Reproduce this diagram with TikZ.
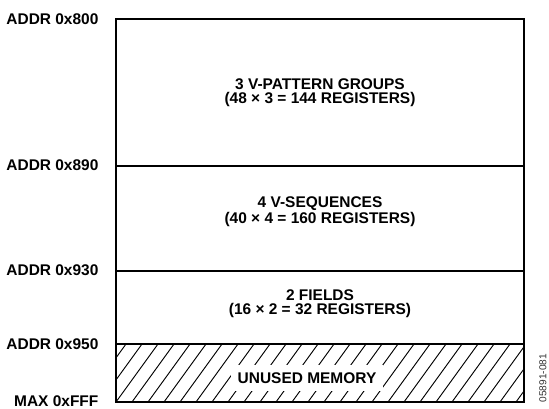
\documentclass[tikz,border=0pt]{standalone}
\usepackage{fontspec}
\setmainfont{Liberation Sans}
\usetikzlibrary{positioning}

\begin{document}
\begin{tikzpicture}[
  x=0.75pt, y=-0.75pt,
  every node/.style={font=\bfseries\fontsize{11.6}{10.5}\selectfont, inner sep=1pt},
  addr/.style={anchor=east},
  region/.style={align=center},
  frame/.style={line width=1.5pt, line join=miter},
  divider/.style={line width=1.1pt},
  hatch/.style={line width=0.7pt},
]
  \useasboundingbox (0,0) rectangle (549,408);
  % memory block
  \coordinate (tl) at (116,19);
  \coordinate (tr) at (524,19);
  \coordinate (bl) at (116,402);
  \coordinate (br) at (524,402);
  \coordinate (d1l) at (116,166);
  \coordinate (d1r) at (524,166);
  \coordinate (d2l) at (116,271);
  \coordinate (d2r) at (524,271);
  \coordinate (d3l) at (116,344);
  \coordinate (d3r) at (524,344);
  % hatched part
  \begin{scope}
    \clip (d3l) rectangle (br);
    \foreach \i in {-4,...,28}
      \draw[hatch] (116+16*\i,402) -- ++(42,-58);
  \end{scope}
  \draw[divider] (d1l) -- (d1r);
  \draw[divider] (d2l) -- (d2r);
  \draw[divider] (d3l) -- (d3r);
  \draw[frame] (tl) -- (tr) -- (br) -- (bl) -- cycle;

  \node[region] (groups) at (320,92.5) {3 V-PATTERN GROUPS\\(48 × 3 = 144 REGISTERS)};
  \node[region] (sequences) at (320,211.5) {4 V-SEQUENCES\\(40 × 4 = 160 REGISTERS)};
  \node[region] (fields) at (320,304) {2 FIELDS\\(16 × 2 = 32 REGISTERS)};
  \node[fill=white, inner xsep=5pt, inner ysep=6pt] (unused) at (307,378) {UNUSED MEMORY};

  % addresses
  \node[addr] (a800) at (100,19) {ADDR 0x800};
  \node[addr] (a890) at (100,165) {ADDR 0x890};
  \node[addr] (a930) at (100,270) {ADDR 0x930};
  \node[addr] (a950) at (100,344) {ADDR 0x950};
  \node[addr] (afff) at (100,401) {MAX 0xFFF};

  \node[rotate=90, anchor=west, font=\fontsize{7.6}{8}\selectfont, text=black!80] (figno) at (543,404) {05891-081};
\end{tikzpicture}
\end{document}
